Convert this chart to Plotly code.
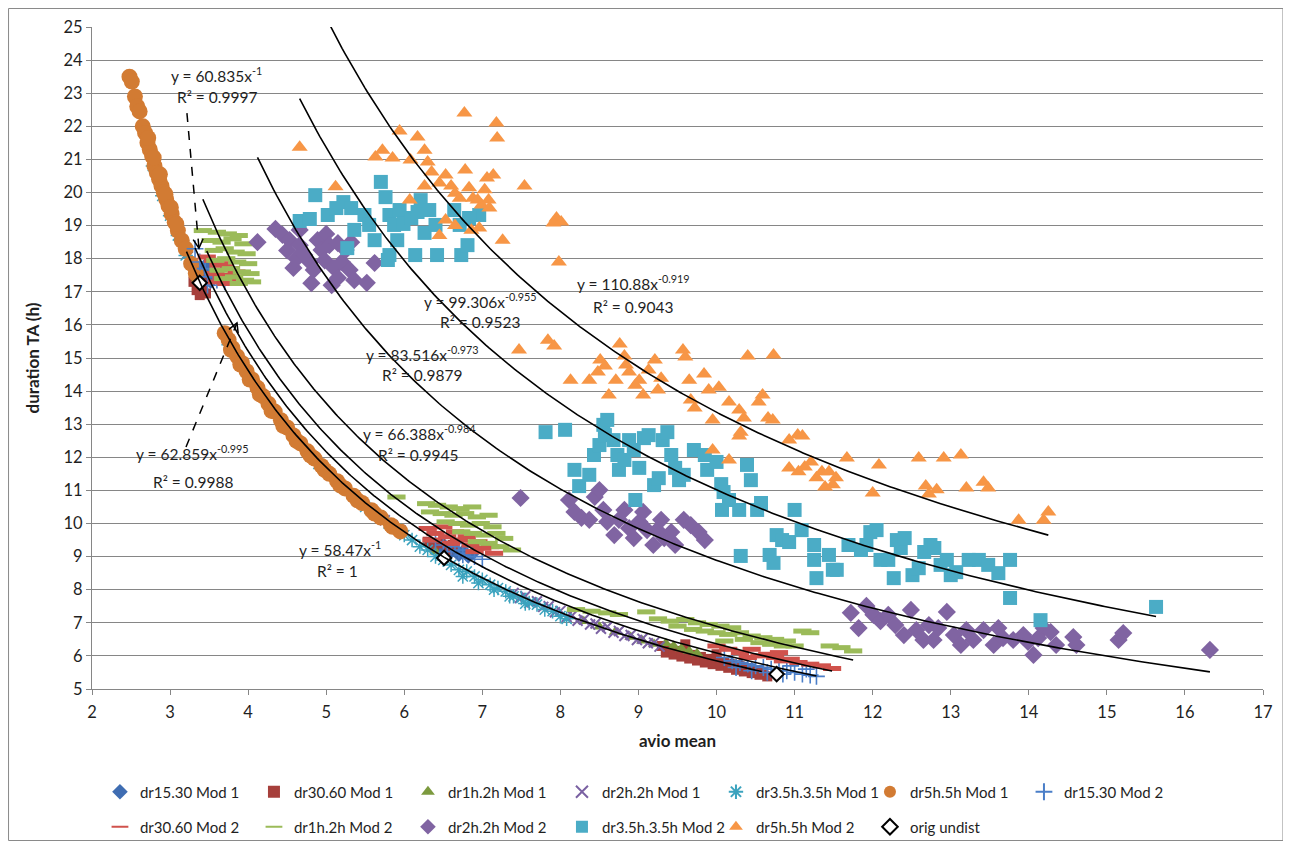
import numpy as np
import plotly.graph_objects as go

# ---------------- data ----------------
names = ["dr15.30 Mod 1", "dr30.60 Mod 1", "dr1h.2h Mod 1", "dr2h.2h Mod 1",
         "dr3.5h.3.5h Mod 1", "dr5h.5h Mod 1", "dr15.30 Mod 2",
         "dr30.60 Mod 2", "dr1h.2h Mod 2", "dr2h.2h Mod 2", "dr3.5h.3.5h Mod 2",
         "dr5h.5h Mod 2", "orig undist"]

d1530m1_x = [3.21, 3.30, 3.36, 3.40, 3.44, 3.48, 3.52, 3.56, 3.45, 6.45, 6.52, 6.58, 6.64, 6.70, 6.76, 6.82, 6.88,
             10.20, 10.32, 10.45, 10.58]
d1530m1_y = [18.20, 17.70, 17.55, 17.25, 17.45, 17.60, 17.30, 17.50, 17.80, 9.20, 9.32, 9.10, 9.25, 9.05, 9.18, 9.00, 9.10,
             5.75, 5.68, 5.60, 5.53]

d3060m1_x = [3.30, 3.34, 3.38, 3.42, 3.46, 3.36, 3.44, 6.30, 6.38, 6.46, 6.55, 6.62,
             9.30, 9.40, 9.50, 9.60, 9.70, 9.80, 9.90, 10.00, 10.10, 10.20, 10.30, 10.40, 10.50, 10.60,
             9.35, 9.45, 9.55, 9.65, 9.75, 9.85, 9.95, 10.05, 10.15, 10.25, 10.35, 10.45, 10.55, 10.65, 9.60, 10.00]
d3060m1_y = [17.30, 17.05, 16.90, 17.15, 16.95, 17.40, 17.35, 9.45, 9.30, 9.40, 9.20, 9.35,
             6.30, 6.22, 6.15, 6.10, 6.03, 5.97, 5.91, 5.85, 5.79, 5.74, 5.68, 5.63, 5.57, 5.52,
             6.10, 6.04, 5.98, 5.92, 5.86, 5.80, 5.75, 5.70, 5.64, 5.58, 5.53, 5.48, 5.43, 5.38, 6.35, 6.05]

d1h2hm1_x = [3.35, 6.40, 8.30, 8.50, 8.70, 8.90, 9.05, 9.20, 9.35, 9.45, 9.55, 9.65, 9.75]
d1h2hm1_y = [17.40, 9.15, 7.05, 6.88, 6.72, 6.57, 6.46, 6.36, 6.38, 6.30, 6.22, 6.15, 6.08]

d2h2hm1_x = [3.22, 3.28, 3.33, 5.75, 5.85, 5.95, 7.40, 7.48, 7.55, 7.63, 7.70, 7.78, 7.85, 7.93, 8.00, 8.08, 8.15,
             8.22, 8.30, 8.38, 8.45, 8.52, 8.60, 8.68, 8.75, 8.82, 8.90, 8.98, 9.05, 9.12, 9.20, 9.27]
d2h2hm1_y = [18.15, 17.85, 17.55, 10.10, 9.95, 9.80, 7.90, 7.75, 7.80, 7.62, 7.65, 7.48, 7.50, 7.32, 7.36, 7.18, 7.22,
             7.06, 7.10, 6.95, 6.98, 6.82, 6.88, 6.70, 6.75, 6.60, 6.63, 6.48, 6.52, 6.38, 6.40, 6.28]

d35m1_x = [2.78, 2.90, 3.00, 3.10, 3.20, 3.75, 4.00, 4.30, 4.60, 4.90, 5.20, 5.50, 5.70, 5.80, 5.90, 6.00, 6.10,
           6.20, 6.30, 6.40, 6.50, 6.60, 6.70, 6.80, 6.90, 7.00, 7.10, 7.20, 7.30, 7.40, 7.50, 7.60, 7.70, 7.80,
           7.90, 8.00, 8.08, 6.75, 6.95, 7.15, 7.35, 7.55]
d35m1_y = [20.80, 19.90, 19.30, 18.70, 18.10, 15.40, 14.45, 13.45, 12.55, 11.80, 11.10, 10.50, 10.20, 10.00, 9.85,
           9.65, 9.50, 9.30, 9.20, 9.00, 8.90, 8.75, 8.60, 8.55, 8.40, 8.30, 8.15, 8.05, 7.95, 7.80, 7.75, 7.60,
           7.55, 7.40, 7.35, 7.20, 7.12, 8.40, 8.20, 8.00, 7.80, 7.58]

d5hm1_x = [2.48, 2.51, 2.55, 2.58, 2.61, 2.65, 2.68, 2.71, 2.74, 2.77, 2.80, 2.83, 2.86, 2.89, 2.92, 2.95, 2.98,
           3.02, 3.06, 3.10, 3.15, 3.20, 3.27, 3.33, 2.72, 2.79, 2.87, 2.94, 3.01, 3.08,
           3.70, 3.75, 3.80, 3.86, 3.92, 3.98, 4.05, 4.12, 4.19, 4.26, 4.34, 4.42, 4.50, 4.58, 4.67, 4.76, 4.85,
           4.94, 5.04, 5.14, 5.24, 5.35, 5.46, 5.58, 5.70, 5.83, 5.95,
           3.78, 3.90, 4.02, 4.15, 4.30, 4.45, 4.62, 4.80, 4.98, 5.18, 5.40, 5.62, 5.85]
d5hm1_y = [23.50, 23.35, 22.90, 22.60, 22.45, 22.00, 21.80, 21.50, 21.30, 21.10, 20.80, 20.60, 20.40, 20.20, 20.00,
           19.80, 19.60, 19.35, 19.10, 18.85, 18.55, 18.30, 17.85, 17.55, 21.65, 21.05, 20.55, 19.95, 19.55, 19.05,
           15.75, 15.55, 15.30, 15.05, 14.85, 14.60, 14.35, 14.10, 13.85, 13.62, 13.38, 13.12, 12.90, 12.66, 12.42,
           12.18, 11.96, 11.74, 11.50, 11.28, 11.06, 10.84, 10.62, 10.40, 10.18, 9.95, 9.76,
           15.25, 14.80, 14.35, 13.90, 13.40, 12.95, 12.50, 12.05, 11.62, 11.15, 10.70, 10.30, 9.90]

d1530m2_x = [3.32, 3.38, 3.45, 3.50, 3.55, 3.60, 3.65, 3.70, 3.48, 6.40, 6.50, 6.60, 6.70, 6.80, 6.90, 7.00, 6.55,
             6.75, 6.65, 10.10, 10.20, 10.30, 10.40, 10.50, 10.60, 10.70, 10.80, 10.90, 11.00, 11.10, 11.20, 11.28,
             10.45, 10.65, 10.85, 10.95, 11.15, 10.25]
d1530m2_y = [18.30, 17.90, 17.70, 17.45, 17.60, 17.35, 17.50, 17.30, 17.20, 9.45, 9.35, 9.30, 9.20, 9.10, 9.00, 8.92,
             9.15, 9.05, 9.40, 5.95, 5.85, 5.80, 5.75, 5.70, 5.65, 5.60, 5.55, 5.55, 5.50, 5.45, 5.42, 5.38,
             5.55, 5.50, 5.45, 5.70, 5.60, 5.65]

d3060m2_x = [3.47, 3.55, 3.62, 3.70, 3.78, 3.58, 3.66, 3.75, 3.82, 3.60, 3.72, 3.85,
             6.30, 6.40, 6.50, 6.55, 6.65, 6.70, 6.80, 6.85, 6.95, 7.00, 7.10, 7.15, 6.60, 6.90, 6.35,
             10.00, 10.15, 10.30, 10.45, 10.55, 10.65, 10.75, 10.85, 10.95, 11.05, 11.20, 11.35, 11.48, 10.40, 10.80]
d3060m2_y = [18.05, 17.95, 17.80, 17.85, 17.70, 17.55, 17.45, 17.50, 17.35, 17.30, 17.25, 17.60,
             9.85, 9.70, 9.90, 9.60, 9.75, 9.50, 9.60, 9.35, 9.45, 9.25, 9.30, 9.10, 9.40, 9.15, 9.50,
             6.30, 6.20, 6.10, 6.20, 6.00, 6.05, 5.95, 5.85, 5.90, 5.80, 5.75, 5.70, 5.62, 5.95, 6.10]

d1h2hm2_x = [3.42, 3.60, 3.74, 3.88, 3.52, 3.66, 3.80, 3.94, 3.56, 3.70, 3.84, 3.98, 3.58, 3.72, 3.86, 4.00,
             3.62, 3.78, 3.92, 4.03, 3.68, 3.82, 3.96, 4.05, 3.88,
             5.90, 6.28, 6.42, 6.57, 6.72, 6.87, 6.33, 6.48, 6.63, 6.78, 6.93, 7.08, 6.53, 6.68, 6.83, 6.98, 7.13,
             6.73, 6.88, 7.03, 7.18, 7.28, 6.93, 7.08, 7.23, 7.38,
             8.20, 8.40, 8.60, 8.75, 9.10, 9.25, 9.40, 9.60, 9.75, 9.90, 10.05, 10.20, 9.70, 9.85, 10.00, 10.15,
             10.30, 10.45, 10.60, 10.75, 10.90, 10.35, 10.55, 10.70, 10.85, 11.00, 11.10, 11.20, 11.45, 11.60,
             11.75, 9.50, 10.10]
d1h2hm2_y = [18.85, 18.80, 18.75, 18.70, 18.55, 18.50, 18.60, 18.45, 18.25, 18.30, 18.20, 18.15, 17.95, 18.00,
             17.90, 17.85, 17.65, 17.70, 17.60, 17.55, 17.40, 17.45, 17.35, 17.30, 17.25,
             10.80, 10.60, 10.55, 10.50, 10.45, 10.50, 10.35, 10.30, 10.25, 10.30, 10.20, 10.25, 10.05, 10.00,
             9.95, 10.00, 9.90, 9.75, 9.70, 9.65, 9.70, 9.55, 9.45, 9.40, 9.30, 9.20,
             7.40, 7.35, 7.30, 7.25, 7.33, 7.12, 7.05, 7.10, 7.00, 6.95, 6.90, 6.85, 6.80, 6.75, 6.70, 6.65,
             6.70, 6.60, 6.55, 6.50, 6.45, 6.50, 6.40, 6.35, 6.30, 6.30, 6.75, 6.70, 6.30, 6.25, 6.15, 6.90, 6.45]

d2h2hm2_x = [4.12, 4.35, 4.44, 4.50, 4.53, 4.58, 4.62, 4.66, 4.66, 4.72, 4.79, 4.81, 4.84, 4.89, 4.94, 4.98, 5.00,
             5.04, 5.07, 5.10, 5.15, 5.15, 5.20, 5.25, 5.30, 5.32, 5.36, 5.52, 5.62,
             7.49, 8.11, 8.18, 8.27, 8.37, 8.44, 8.50, 8.55, 8.60, 8.69, 8.75, 8.82, 8.88, 8.94, 9.01, 9.06, 9.11,
             9.19, 9.24, 9.29, 9.33, 9.42, 9.47, 9.58, 9.67, 9.77, 9.85,
             11.72, 11.82, 11.92, 12.01, 12.10, 12.20, 12.29, 12.40, 12.49, 12.56, 12.65, 12.72, 12.78, 12.84,
             12.95, 13.04, 13.13, 13.20, 13.29, 13.42, 13.55, 13.61, 13.67, 13.80, 13.93, 13.99, 14.06, 14.12,
             14.19, 14.28, 14.35, 14.57, 14.61, 15.15, 15.21, 16.32]
d2h2hm2_y = [18.50, 18.90, 18.72, 18.25, 18.56, 17.72, 18.00, 18.41, 18.87, 18.11, 17.90, 17.26, 17.66, 18.56,
             18.26, 17.95, 18.75, 18.41, 17.20, 17.72, 17.42, 18.47, 17.90, 18.26, 17.66, 18.50, 17.35, 17.27, 17.87,
             10.77, 10.71, 10.35, 10.17, 10.11, 10.80, 11.01, 10.41, 10.05, 9.65, 10.11, 10.41, 9.86, 9.56, 10.05,
             10.35, 9.80, 9.35, 9.80, 10.11, 9.56, 9.74, 9.35, 10.11, 9.95, 9.74, 9.50,
             7.30, 6.84, 7.51, 7.24, 7.05, 7.24, 6.93, 6.63, 7.39, 6.78, 6.48, 6.93, 6.48, 6.84, 7.33, 6.63, 6.33,
             6.78, 6.48, 6.78, 6.33, 6.84, 6.54, 6.48, 6.63, 6.42, 6.03, 6.54, 6.84, 6.72, 6.33, 6.57, 6.33, 6.48,
             6.69, 6.18]

d35m2_x = [4.66, 4.79, 4.86, 5.02, 5.13, 5.22, 5.32, 5.27, 5.36, 5.49, 5.55, 5.62, 5.70, 5.76, 5.81, 5.87, 5.91,
           5.94, 5.99, 5.81, 5.79, 6.14, 6.09, 6.17, 6.21, 6.26, 6.32, 6.40, 6.42, 6.71, 6.73, 6.81, 6.96, 6.83, 6.64,
           7.81, 8.06, 8.18, 8.24, 8.37, 8.43, 8.50, 8.55, 8.57, 8.60, 8.68, 8.73, 8.75, 8.82, 8.88, 8.94, 8.96,
           9.01, 9.07, 9.13, 9.20, 9.26, 9.31, 9.37, 9.42, 9.47, 9.52, 9.58, 9.71, 9.85, 9.88, 10.00, 10.06, 10.07,
           10.09, 10.16, 10.29, 10.31, 10.39, 10.44, 10.52, 10.57, 10.68, 10.73, 10.77, 10.84, 10.93, 11.00, 11.09,
           11.25, 11.25, 11.28, 11.44, 11.49, 11.54, 11.69, 11.85, 11.92, 11.97, 12.05, 12.10, 12.20, 12.27, 12.31,
           12.36, 12.41, 12.51, 12.59, 12.66, 12.74, 12.79, 12.87, 12.95, 13.00, 13.07, 13.23, 13.36, 13.48, 13.61,
           13.76, 13.76, 14.15, 15.63]
d35m2_y = [19.14, 19.20, 19.92, 19.32, 19.53, 19.71, 19.53, 18.32, 18.87, 19.32, 19.02, 18.56, 20.32, 19.86,
           19.32, 19.02, 18.56, 19.47, 19.05, 18.11, 17.96, 18.11, 19.23, 19.41, 19.77, 18.78, 19.47, 19.02, 18.11,
           19.02, 18.11, 18.41, 19.32, 19.23, 19.47,
           12.76, 12.83, 11.62, 11.13, 11.47, 12.07, 12.37, 12.98, 12.67, 13.13, 12.52, 12.07, 11.62, 11.92, 12.52,
           12.22, 10.71, 11.68, 12.58, 12.67, 11.16, 11.37, 12.52, 12.76, 12.07, 11.68, 11.31, 11.47, 12.22, 12.07,
           11.62, 11.86, 11.19, 10.41, 10.95, 10.71, 10.41, 9.02, 11.77, 11.31, 10.41, 10.62, 9.05, 8.81, 9.65, 9.50,
           9.44, 10.41, 9.80, 9.35, 8.90, 8.35, 9.05, 8.60, 8.60, 9.35, 9.20, 9.35, 9.74, 9.80, 8.90, 8.90, 8.35,
           9.50, 9.26, 9.56, 8.44, 8.65, 9.14, 9.35, 9.26, 8.75, 8.90, 8.44, 8.53, 8.90, 8.90, 8.75, 8.50, 8.90,
           7.75, 7.08, 7.48]

d5hm2_x = [4.66, 5.12, 5.63, 5.72, 5.85, 5.94, 6.07, 6.17, 6.26, 6.30, 6.35, 6.45, 6.53, 6.60, 6.65, 6.71, 6.77,
           6.78, 6.83, 6.88, 6.94, 6.99, 7.03, 7.06, 7.08, 7.09, 7.14, 7.18, 7.19, 7.26, 6.45, 6.26, 6.08, 6.53, 6.65,
           6.86, 6.96, 7.54, 7.95, 7.91, 8.01, 7.98, 7.47, 7.84, 7.92,
           8.13, 8.37, 8.48, 8.51, 8.57, 8.62, 8.71, 8.76, 8.82, 8.84, 8.88, 8.96, 9.01, 9.06, 9.13, 9.21, 9.25,
           9.29, 9.57, 9.60, 9.65, 9.67, 9.72, 9.84, 9.90, 9.95, 10.03, 10.16, 10.29, 10.31, 10.35, 10.29, 10.40,
           10.73, 10.59, 10.66, 10.72, 10.93, 11.04, 11.10, 11.13, 11.05, 11.21, 11.28, 11.35, 11.39, 11.44, 11.49,
           11.53, 11.67, 12.00, 12.08, 12.59, 12.68, 12.72, 12.82, 12.91, 13.13, 13.20, 13.42, 13.48, 13.87, 14.19,
           14.25, 10.54, 10.93, 10.16, 9.95]
d5hm2_y = [21.37, 20.17, 21.07, 21.28, 21.04, 21.86, 19.77, 21.68, 21.28, 20.92, 20.62, 20.29, 20.53, 20.20,
           19.98, 19.83, 22.40, 20.68, 20.14, 19.83, 19.77, 19.62, 20.08, 20.44, 19.77, 19.53, 20.53, 22.10, 21.65,
           18.56, 18.70, 20.20, 20.98, 19.17, 19.00, 18.86, 18.93, 20.20, 19.23, 19.08, 19.11, 17.90, 15.24, 15.54,
           15.36,
           14.33, 14.33, 14.58, 14.94, 14.76, 13.88, 14.33, 15.42, 15.06, 14.79, 14.58, 14.18, 14.33, 13.88, 14.64,
           14.94, 14.03, 14.39, 15.24, 15.03, 14.33, 13.73, 13.49, 14.52, 14.03, 13.13, 14.12, 13.67, 12.64, 12.76,
           13.19, 13.43, 15.06, 15.09, 13.88, 13.19, 13.13, 12.52, 12.67, 12.64, 11.71, 11.56, 11.86, 11.38, 11.56,
           11.10, 11.56, 11.17, 11.38, 11.98, 10.92, 11.77, 11.98, 11.13, 10.89, 11.02, 11.98, 12.07, 11.07, 11.25,
           11.07, 10.10, 10.10, 10.35, 13.67, 11.68, 11.92, 12.22]

orig_x = [3.38, 6.51, 10.77]
orig_y = [17.27, 8.96, 5.45]

# power-law trendlines (coefficient, exponent) and the series they belong to
trend_series = ["dr15.30 Mod 1", "dr15.30 Mod 2", "dr30.60 Mod 2", "dr1h.2h Mod 2",
                "dr2h.2h Mod 2", "dr3.5h.3.5h Mod 2", "dr5h.5h Mod 2"]
trend_coef = [58.47, 60.835, 62.859, 66.388, 83.516, 99.306, 110.88]
trend_exp = [-1, -1, -0.995, -0.984, -0.973, -0.955, -0.919]
trend_r2 = ["1", "0.9997", "0.9988", "0.9945", "0.9879", "0.9523", "0.9043"]

x_ticks = list(range(2, 18))
y_ticks = list(range(5, 26))

# ---------------- styling ----------------
FONT = "Lato, 'Open Sans', sans-serif"
TXT = "#1f1f1f"
xs = [d1530m1_x, d3060m1_x, d1h2hm1_x, d2h2hm1_x, d35m1_x, d5hm1_x, d1530m2_x,
      d3060m2_x, d1h2hm2_x, d2h2hm2_x, d35m2_x, d5hm2_x, orig_x]
ys = [d1530m1_y, d3060m1_y, d1h2hm1_y, d2h2hm1_y, d35m1_y, d5hm1_y, d1530m2_y,
      d3060m2_y, d1h2hm2_y, d2h2hm2_y, d35m2_y, d5hm2_y, orig_y]
styles = [
    dict(symbol="diamond", size=11, color="#3F6DB2"),
    dict(symbol="square", size=10, color="#A63F3B"),
    dict(symbol="triangle-up", size=11, color="#7C9A3E"),
    dict(symbol="x-thin", size=10, color="#7B62A3", line=dict(width=2, color="#7B62A3")),
    dict(symbol="asterisk", size=12, color="#3BA3BE", line=dict(width=1.5, color="#3BA3BE")),
    dict(symbol="circle", size=16, color="#D27B33"),
    dict(symbol="cross-thin", size=12, color="#4A7EC8", line=dict(width=1.6, color="#4A7EC8")),
    dict(symbol="line-ew", size=13, color="#D0524C", line=dict(width=5, color="#D0524C")),
    dict(symbol="line-ew", size=13, color="#9BBB59", line=dict(width=5, color="#9BBB59")),
    dict(symbol="diamond", size=14, color="#8064A2"),
    dict(symbol="square", size=14, color="#4BACC6"),
    dict(symbol="triangle-up", size=14, color="#F79646"),
    dict(symbol="diamond", size=11, color="white", line=dict(width=2, color="black")),
]

fig = go.Figure()
for i, (nm, x, y, st) in enumerate(zip(names, xs, ys, styles)):
    fig.add_trace(go.Scatter(
        x=x, y=y, mode="markers", name=nm, marker=st,
        legend="legend" if i < 7 else "legend2"))

for sname, a, b in zip(trend_series, trend_coef, trend_exp):
    idx = names.index(sname)
    xx = np.linspace(min(xs[idx]), max(xs[idx]), 300)
    fig.add_trace(go.Scatter(x=xx, y=a * xx ** b, mode="lines", showlegend=False,
                             line=dict(color="black", width=1.6), hoverinfo="skip"))

# trendline labels (data coordinates)
lab_pos = {  # series -> (x, y of equation line, x, y of R2 line)
    "dr15.30 Mod 2": (3.60, 23.55, 3.60, 22.89),
    "dr5h.5h Mod 2": (8.93, 17.27, 8.93, 16.54),
    "dr3.5h.3.5h Mod 2": (6.98, 16.75, 6.97, 16.09),
    "dr2h.2h Mod 2": (6.23, 15.15, 6.23, 14.49),
    "dr1h.2h Mod 2": (6.20, 12.76, 6.17, 12.07),
    "dr30.60 Mod 2": (3.29, 12.16, 3.29, 11.25),
    "dr15.30 Mod 1": (5.18, 9.23, 5.15, 8.57),
}
annotations = []
for sname, a, b, r2 in zip(trend_series, trend_coef, trend_exp, trend_r2):
    ex, ey, rx, ry = lab_pos[sname]
    bs = "-1" if b == -1 else f"{b:g}"
    annotations.append(dict(x=ex, y=ey, xref="x", yref="y", showarrow=False,
                            text=f"y = {a:g}x<sup>{bs}</sup>", font=dict(size=15.5, color=TXT, family=FONT)))
    annotations.append(dict(x=rx, y=ry, xref="x", yref="y", showarrow=False,
                            text=f"R² = {r2}", font=dict(size=15.5, color=TXT, family=FONT)))

# dashed leader arrows for two labels
PXX, PXY = 78.1, 33.1  # pixels per axis unit
arrows = [((3.216, 22.40), (3.370, 18.32)), ((3.204, 12.31), (3.857, 16.06))]
shapes = []
for (x0, y0), (x1, y1) in arrows:
    shapes.append(dict(type="line", xref="x", yref="y", x0=x0, y0=y0, x1=x1, y1=y1,
                       line=dict(color="black", width=1.5, dash="dash")))
    dxp, dyp = (x1 - x0) * PXX, (y1 - y0) * PXY
    L = (dxp ** 2 + dyp ** 2) ** 0.5
    ux, uy = dxp / L, dyp / L
    nx, ny = -uy, ux
    pts = []
    for s in (1, -1):
        px_ = -9 * ux + s * 5 * nx
        py_ = -9 * uy + s * 5 * ny
        pts.append((x1 + px_ / PXX, y1 + py_ / PXY))
    path = f"M {pts[0][0]} {pts[0][1]} L {x1} {y1} L {pts[1][0]} {pts[1][1]}"
    shapes.append(dict(type="path", xref="x", yref="y", path=path,
                       line=dict(color="black", width=1.5)))

# figure geometry (the page adds an 8px body margin around the figure)
W, H = 1276, 833
ML, MT = 84, 19
PW, PH = 1171.5, 662
MR = W - ML - PW
MB = H - MT - PH

# outer chart-area border along the figure edge
shapes.append(dict(type="rect", xref="paper", yref="paper",
                   x0=(0.5 - ML) / PW, x1=(W - 0.5 - ML) / PW,
                   y0=(MT + PH - (H - 0.5)) / PH, y1=(MT + PH - 0.5) / PH,
                   line=dict(color="#8a8a8a", width=1)))

legend_common = dict(orientation="h", xanchor="left", yanchor="middle", entrywidth=109,
                     entrywidthmode="pixels", itemsizing="constant", bgcolor="rgba(0,0,0,0)",
                     font=dict(size=15, color=TXT, family=FONT), traceorder="normal")

fig.update_layout(
    template="none",
    width=W, height=H,
    margin=dict(l=ML, r=MR, t=MT, b=MB, autoexpand=False),
    paper_bgcolor="white", plot_bgcolor="white",
    font=dict(family=FONT, color=TXT),
    showlegend=True,
    legend=dict(x=0.0068, y=-0.1556, **legend_common),
    legend2=dict(x=0.0068, y=-0.2085, **legend_common),
    annotations=annotations,
    shapes=shapes,
    xaxis=dict(range=[2, 17], tickvals=x_ticks, showgrid=False, zeroline=False, automargin=False,
               showline=True, linecolor="#868686", linewidth=1, ticks="outside", ticklen=5,
               tickcolor="#868686", tickfont=dict(size=16.5, color=TXT, family=FONT), ticklabelstandoff=3,
               title=dict(text="<b>avio mean</b>", font=dict(size=17, color=TXT, family=FONT), standoff=14)),
    yaxis=dict(range=[5, 25], tickvals=y_ticks, showgrid=True, gridcolor="#868686", gridwidth=1,
               zeroline=False, automargin=False, showline=True, linecolor="#868686", linewidth=1,
               ticks="outside", ticklen=5, tickcolor="#868686", tickfont=dict(size=16.5, color=TXT, family=FONT),
               title=dict(text="<b>duration TA (h)</b>", font=dict(size=17, color=TXT, family=FONT),
                          standoff=19)),
)

fig.write_html("out.html")
